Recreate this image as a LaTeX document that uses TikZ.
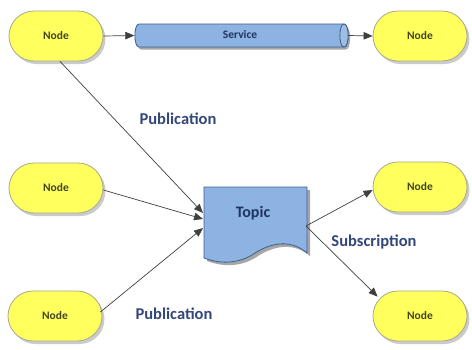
\documentclass[tikz,border=0pt]{standalone}
\usepackage{fontspec}
\setmainfont{Carlito}
\usetikzlibrary{shapes.geometric,shadows,arrows.meta,calc}
\definecolor{nodeyellow}{HTML}{FFFF5E}
\definecolor{nodeedge}{HTML}{A8A890}
\definecolor{nodetext}{HTML}{45451F}
\definecolor{bluefill}{HTML}{8DB3E2}
\definecolor{blueedge}{HTML}{3E5E8E}
\definecolor{bluetext}{HTML}{1F3366}
\definecolor{labeltext}{HTML}{34477A}
\definecolor{linegray}{HTML}{404040}
\tikzset{
  nodebox/.style={rectangle, rounded corners=25pt, minimum width=94pt, minimum height=50pt,
    draw=nodeedge, line width=0.8pt, fill=nodeyellow, text=nodetext,
    font=\fontsize{11.5}{12}\selectfont\bfseries,
    drop shadow={shadow xshift=2.5pt, shadow yshift=-3pt, fill=black!40}},
  conn/.style={-{Triangle[length=9pt,width=7.5pt]}, draw=linegray, line width=0.7pt},
  lbl/.style={text=labeltext, font=\fontsize{16.5}{18}\selectfont\bfseries},
  blueshape/.style={draw=blueedge, line width=0.8pt, fill=bluefill}
}
\begin{document}
\begin{tikzpicture}[x=1pt,y=-1pt]
\useasboundingbox[fill=white] (0,0) rectangle (472,349);

% topic document shape
\fill[black!35] (207,190) -- (310,190) -- (310,256)
  .. controls (295,243) and (275,244) .. (255,258)
  .. controls (238,268) and (220,266) .. (207,261) -- cycle;
\draw[blueshape] (204,187) -- (307,187) -- (307,253)
  .. controls (292,240) and (272,241) .. (252,255)
  .. controls (235,265) and (217,263) .. (204,258) -- cycle;
\node[inner sep=0pt, minimum width=103pt, minimum height=71pt] (topic) at (255.5,222.5) {};
\node[text=bluetext, font=\fontsize{16}{18}\selectfont\bfseries] (topictext) at (253,213) {Topic};

% service cylinder
\fill[black!35] (141,26.5) -- (346,26.5) .. controls (351.5,26.5) and (351.5,49.5) .. (346,49.5)
  -- (141,49.5) .. controls (135.5,49.5) and (135.5,26.5) .. (141,26.5) -- cycle;
\draw[blueshape] (139,24) -- (344,24) .. controls (349.5,24) and (349.5,47) .. (344,47)
  -- (139,47) .. controls (133.5,47) and (133.5,24) .. (139,24) -- cycle;
\draw[blueedge, line width=0.8pt, fill=bluefill!85!white] (344,24) .. controls (349.5,24) and (349.5,47) .. (344,47)
  .. controls (338.5,47) and (338.5,24) .. (344,24) -- cycle;
\node[inner sep=0pt, minimum width=214pt, minimum height=23pt] (svc) at (241.5,35.5) {};
\node[text=bluetext, font=\fontsize{11.5}{12}\selectfont\bfseries] (svctext) at (240,35) {Service};

\node[nodebox] (tl) at (56,36) {Node};
\node[nodebox] (tr) at (420,36) {Node};
\node[nodebox] (ml) at (56,188) {Node};
\node[nodebox] (bl) at (55,316) {Node};
\node[nodebox] (mr) at (420,187) {Node};
\node[nodebox] (br) at (420,316) {Node};

\coordinate (ta) at (203,213);
\coordinate (tb) at (203,219);
\coordinate (tc) at (203,228);
\coordinate (tout) at (306,226);

\draw[conn] (tl.east) -- (svc.west);
\draw[conn] (svc.east) -- (tr.west);
\draw[conn] ($(tl.south)+(4,0)$) -- (ta);
\draw[conn] ($(ml.east)+(0,2)$) -- (tb);
\draw[conn] ($(bl.east)+(-2,-4)$) -- (tc);
\draw[conn] (tout) -- ($(mr.west)+(0,3)$);
\draw[conn] (tout) -- ($(br.north west)+(5,6)$);

\node[lbl] (pub1) at (178,119) {Publication};
\node[lbl] (sub) at (374,242) {Subscription};
\node[lbl] (pub2) at (174,314) {Publication};
\end{tikzpicture}
\end{document}
